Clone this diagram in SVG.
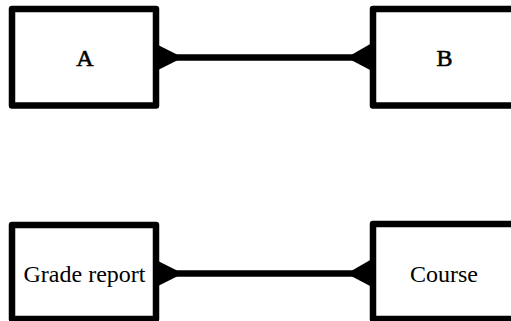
<svg xmlns="http://www.w3.org/2000/svg" width="511" height="321" viewBox="0 0 511 321">
<style>
.box{fill:#fff;stroke:#000;stroke-width:6.5;stroke-linejoin:round}
.lbl{font-family:"Liberation Serif","Times New Roman",serif;font-size:24px;fill:#000;text-anchor:middle}
.line{stroke:#000;stroke-width:6.5;fill:none}
.tri{fill:#000;stroke:none}
</style>
<rect width="511" height="321" fill="#fff"/>
<g id="connectors">
<line class="line" x1="158" y1="57.5" x2="372" y2="57.5"/>
<path class="tri" d="M156,45 L158,45 L177,54.5 L177,60.5 L158,70 L156,70 Z"/>
<path class="tri" d="M374,43 L372,43 L352,54.5 L352,60.5 L372,71 L374,71 Z"/>
<line class="line" x1="158" y1="273.5" x2="372" y2="273.5"/>
<path class="tri" d="M156,261 L158,261 L177,270.5 L177,276.5 L158,286 L156,286 Z"/>
<path class="tri" d="M374,259 L372,259 L352,270.5 L352,276.5 L372,287 L374,287 Z"/>
</g>
<g id="nodeA">
<rect class="box" x="12" y="9" width="144" height="96.5"/>
<text class="lbl" x="85" y="65.5" stroke="#000" stroke-width="0.6">A</text>
</g>
<g id="nodeB">
<rect class="box" x="373" y="9" width="150" height="96.5"/>
<text class="lbl" x="444.5" y="65.5" stroke="#000" stroke-width="0.6">B</text>
</g>
<g id="nodeGrade">
<rect class="box" x="12" y="225" width="144" height="94"/>
<text class="lbl" x="84.5" y="282">Grade report</text>
</g>
<g id="nodeCourse">
<rect class="box" x="373" y="224" width="150" height="95"/>
<text class="lbl" x="444" y="282">Course</text>
</g>
</svg>
